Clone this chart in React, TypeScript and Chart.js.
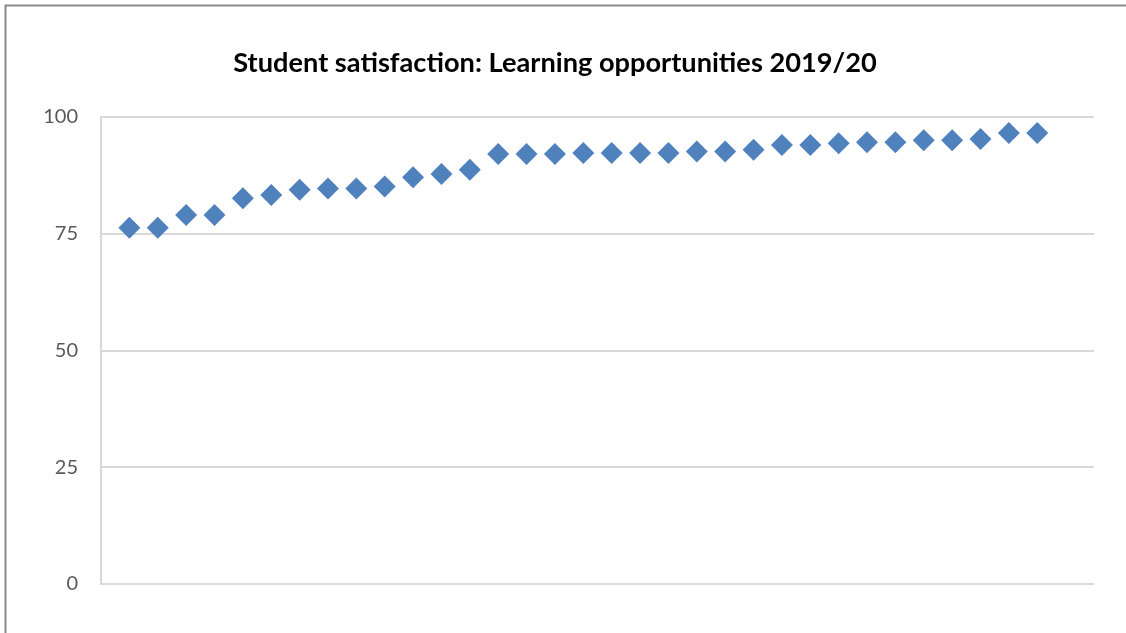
import React, { useEffect, useRef } from "react";
import { Chart, registerables } from "chart.js";

Chart.register(...registerables);

const chartTitle = "Student satisfaction: Learning opportunities 2019/20";
const positions = [
  1, 2, 3, 4, 5, 6, 7, 8, 9, 10, 11, 12, 13, 14, 15, 16, 17, 18, 19, 20, 21,
  22, 23, 24, 25, 26, 27, 28, 29, 30, 31, 32, 33,
];
const satisfaction = [
  76.3, 76.3, 79.0, 79.0, 82.6, 83.3, 84.4, 84.7, 84.7, 85.1, 87.1, 87.8,
  88.7, 92.1, 92.1, 92.1, 92.3, 92.3, 92.3, 92.3, 92.6, 92.6, 93.0, 94.0,
  94.0, 94.4, 94.6, 94.6, 95.0, 95.0, 95.3, 96.6, 96.6,
];
const yTicks = [0, 25, 50, 75, 100];

export default function App() {
  const canvasRef = useRef<HTMLCanvasElement | null>(null);

  useEffect(() => {
    document.body.style.margin = "0";
    const canvas = canvasRef.current;
    if (!canvas) return;

    const framePlugin = {
      id: "frameAndTitle",
      beforeDraw(chart: any) {
        const ctx = chart.ctx;
        ctx.save();
        ctx.fillStyle = "#ffffff";
        ctx.fillRect(0, 0, chart.width, chart.height);
        ctx.strokeStyle = "#8a8a8a";
        ctx.lineWidth = 2;
        ctx.strokeRect(5.5, 5.5, chart.width + 100, chart.height + 100);
        ctx.restore();
      },
      afterDraw(chart: any) {
        const ctx = chart.ctx;
        ctx.save();
        ctx.font = "bold 27.2px Lato";
        ctx.fillStyle = "#000000";
        ctx.textAlign = "center";
        ctx.textBaseline = "alphabetic";
        ctx.fillText(chartTitle, 555, 71.5);
        ctx.restore();
      },
    };

    const chart = new Chart(canvas, {
      type: "scatter",
      data: {
        datasets: [
          {
            data: positions.map((x, i) => ({ x, y: satisfaction[i] })),
            pointStyle: "rectRot",
            pointRadius: 11,
            pointHoverRadius: 11,
            pointBorderWidth: 0,
            backgroundColor: "#4F81BD",
            borderColor: "#4F81BD",
          },
        ],
      },
      options: {
        responsive: false,
        animation: false,
        layout: { padding: { top: 117, left: 0, right: 32, bottom: 49 } },
        plugins: {
          legend: { display: false },
          title: { display: false },
          tooltip: { enabled: false },
        },
        scales: {
          x: {
            type: "linear",
            min: 0,
            max: 35,
            display: false,
          },
          y: {
            type: "linear",
            min: 0,
            max: 100,
            afterFit(scale: any) {
              scale.width = 101;
            },
            afterBuildTicks(scale: any) {
              scale.ticks = yTicks.map((v) => ({ value: v }));
            },
            grid: {
              color: "#d9d9d9",
              lineWidth: 2,
              drawTicks: false,
            },
            border: { display: true, color: "#d9d9d9", width: 2 },
            ticks: {
              padding: 23,
              color: "#595959",
              font: { family: "Lato", size: 20 },
            },
          },
        },
      },
      plugins: [framePlugin],
    });

    return () => chart.destroy();
  }, []);

  return (
    <canvas
      ref={canvasRef}
      width={1126}
      height={633}
      style={{ display: "block", width: 1126, height: 633 }}
    />
  );
}
